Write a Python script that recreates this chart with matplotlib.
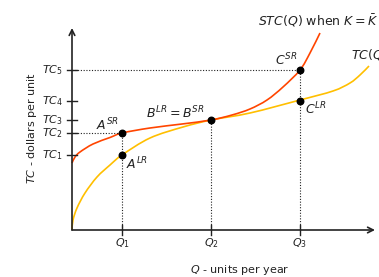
import matplotlib
matplotlib.use("Agg")
import matplotlib.pyplot as plt
from matplotlib.path import Path
from matplotlib.patches import PathPatch

plt.rcParams["font.family"] = "DejaVu Sans"
plt.rcParams["mathtext.fontset"] = "dejavusans"

# quantities and cost levels (axis units)
q_ticks = [50, 139, 228]
q_labels = [r"$Q_1$", r"$Q_2$", r"$Q_3$"]
tc_ticks = [75, 97, 110, 129, 160]
tc_labels = [r"$TC_1$", r"$TC_2$", r"$TC_3$", r"$TC_4$", r"$TC_5$"]

# short-run total cost curve
stc_q = [0, 3, 8, 21, 38, 50, 78, 110, 139, 160, 178, 195, 211, 228, 238, 248]
stc_c = [67, 73, 78, 86, 92.5, 97, 102, 106, 110, 115, 121, 130, 143, 160, 177, 197]

# long-run total cost curve
ltc_q = [0, 1, 5, 13, 25, 38, 50, 78, 111, 139, 178, 228, 261, 278, 288, 297]
ltc_c = [0, 10, 22, 37, 53, 65, 75, 92, 103, 110, 117, 130, 139, 147, 155, 164]

# marked points
pts_q = [50, 50, 139, 228, 228]
pts_c = [97, 75, 110, 160, 129]


def smooth_path(xs, ys):
    # Catmull-Rom through the read points, drawn as cubic Bezier segments
    pts = list(zip(xs, ys))
    verts = [pts[0]]
    codes = [Path.MOVETO]
    for i in range(len(pts) - 1):
        p0 = pts[i - 1] if i > 0 else pts[i]
        p1, p2 = pts[i], pts[i + 1]
        p3 = pts[i + 2] if i + 2 < len(pts) else pts[i + 1]
        c1 = (p1[0] + (p2[0] - p0[0]) / 6, p1[1] + (p2[1] - p0[1]) / 6)
        c2 = (p2[0] - (p3[0] - p1[0]) / 6, p2[1] - (p3[1] - p1[1]) / 6)
        verts += [c1, c2, p2]
        codes += [Path.CURVE4] * 3
    return Path(verts, codes)


W, H = 379, 277
fig = plt.figure(figsize=(W / 100, H / 100), dpi=100)
ax = fig.add_axes([72 / W, (H - 230) / H, 303 / W, 202 / H])
ax.set_xlim(0, 303)
ax.set_ylim(0, 202)
ax.axis("off")

red = "#ff4500"
yellow = "#ffbf00"
ax.add_patch(PathPatch(smooth_path(ltc_q, ltc_c), fill=False, edgecolor=yellow,
                       lw=1.2, clip_on=False))
ax.add_patch(PathPatch(smooth_path(stc_q, stc_c), fill=False, edgecolor=red,
                       lw=1.2, clip_on=False))

ink = "#222222"
# axes with arrows
ax.annotate("", xy=(303, 0), xytext=(0, 0),
            arrowprops=dict(arrowstyle="->", lw=1.2, color=ink, shrinkA=0, shrinkB=0))
ax.annotate("", xy=(0, 202), xytext=(0, 0),
            arrowprops=dict(arrowstyle="->", lw=1.2, color=ink, shrinkA=0, shrinkB=0))

# ticks crossing the axes
for c, lab in zip(tc_ticks, tc_labels):
    ax.plot([-5, 5], [c, c], color=ink, lw=1, clip_on=False)
    ax.text(-9, c, lab, ha="right", va="center", fontsize=8, color=ink)
for q, lab in zip(q_ticks, q_labels):
    ax.plot([q, q], [-5, 5], color=ink, lw=1, clip_on=False)
    ax.text(q, -13, lab, ha="center", va="center", fontsize=8, color=ink)

# dotted guide lines
dot = dict(color=ink, lw=0.8, ls=(0, (1, 1.5)))
ax.plot([0, 50], [97, 97], **dot)
ax.plot([0, 228], [160, 160], **dot)
ax.plot([50, 50], [0, 97], **dot)
ax.plot([139, 139], [0, 110], **dot)
ax.plot([228, 228], [0, 160], **dot)

ax.scatter(pts_q, pts_c, s=22, color="black", zorder=5)

# point labels
ax.text(35, 105, r"$A^{SR}$", ha="center", va="center", fontsize=9, color=ink)
ax.text(65, 66, r"$A^{LR}$", ha="center", va="center", fontsize=9, color=ink)
ax.text(103, 117, r"$B^{LR} = B^{SR}$", ha="center", va="center", fontsize=9, color=ink)
ax.text(214, 170, r"$C^{SR}$", ha="center", va="center", fontsize=9, color=ink)
ax.text(244, 121, r"$C^{LR}$", ha="center", va="center", fontsize=9, color=ink)

ax.text(186, 209, r"$STC(Q)$ when $K = \bar{K}$", ha="left", va="center",
        fontsize=9, color=ink, clip_on=False)
ax.text(279, 176, r"$TC(Q)$", ha="left", va="center", fontsize=9,
        color=ink, clip_on=False)

# axis titles
ax.text(-40, 102, r"$TC$ - dollars per unit", rotation=90, ha="center", va="center",
        fontsize=8, color=ink)
ax.text(168, -40, r"$Q$ - units per year", ha="center", va="center",
        fontsize=8, color=ink)

fig.savefig("out.png", dpi=100)
